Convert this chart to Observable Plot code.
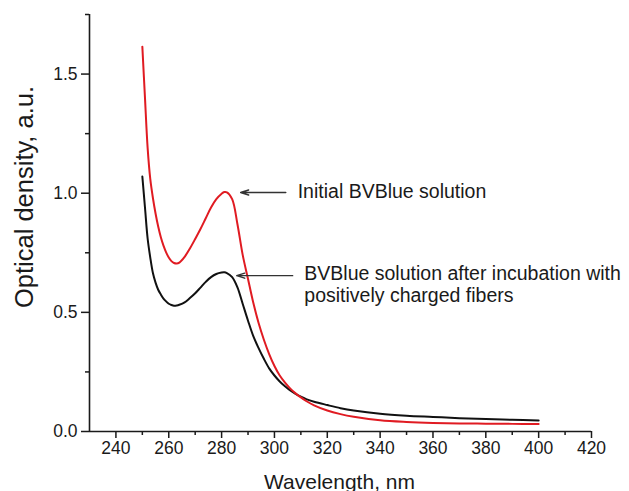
<!DOCTYPE html>
<html>
<head>
<meta charset="utf-8">
<script src="https://cdn.jsdelivr.net/npm/d3@7"></script>
<script src="https://cdn.jsdelivr.net/npm/@observablehq/plot@0.6"></script>
<style>
  html, body { margin: 0; padding: 0; background: #fff; }
  #chart svg { display: block; }
</style>
</head>
<body>
<div id="chart"></div>
<script>
// Wavelength (nm)
const wavelength = [250, 251, 252, 253, 254, 255, 256, 257, 258, 259, 260, 261, 262, 263, 264, 266, 268, 270, 272, 274, 276, 278, 280, 281, 282, 284, 286, 288, 290, 292, 294, 296, 298, 300, 302, 304, 306, 308, 310, 312, 315, 320, 325, 330, 340, 350, 360, 370, 380, 390, 400];
// Initial BVBlue solution (red)
const initialOD = [1.615, 1.40, 1.19, 1.06, 0.98, 0.915, 0.86, 0.815, 0.78, 0.752, 0.73, 0.715, 0.707, 0.705, 0.709, 0.733, 0.768, 0.808, 0.85, 0.895, 0.94, 0.975, 0.998, 1.005, 1.004, 0.975, 0.87, 0.74, 0.64, 0.54, 0.455, 0.385, 0.325, 0.275, 0.235, 0.205, 0.18, 0.16, 0.143, 0.128, 0.11, 0.088, 0.073, 0.062, 0.047, 0.04, 0.036, 0.034, 0.033, 0.032, 0.031];
// After incubation with positively charged fibers (black)
const afterOD = [1.07, 0.94, 0.81, 0.73, 0.665, 0.625, 0.595, 0.575, 0.558, 0.546, 0.536, 0.531, 0.528, 0.529, 0.532, 0.542, 0.56, 0.58, 0.604, 0.628, 0.648, 0.661, 0.667, 0.668, 0.665, 0.648, 0.605, 0.535, 0.465, 0.40, 0.35, 0.305, 0.265, 0.235, 0.21, 0.19, 0.172, 0.158, 0.146, 0.136, 0.125, 0.111, 0.098, 0.088, 0.074, 0.066, 0.061, 0.056, 0.052, 0.049, 0.046];

const xMajorTicks = [240, 260, 280, 300, 320, 340, 360, 380, 400, 420];
const xMinorTicks = [250, 270, 290, 310, 330, 350, 370, 390, 410];
const yMajorTicks = [0, 0.5, 1.0, 1.5];
const yMinorTicks = [0.25, 0.75, 1.25, 1.75];

const annoText = ["Initial BVBlue solution", "BVBlue solution after incubation with", "positively charged fibers"];
const annoX = [308.8, 311.3, 311.3];
const annoY = [1.007, 0.663, 0.571];

const arrowFromX = [304.3, 306.9];
const arrowToX = [287.2, 285.7];
const arrowY = [1.003, 0.654];

const xTitle = ["Wavelength, nm"];
const yTitle = ["Optical density, a.u."];

const redData = wavelength.map((w, i) => ({w, v: initialOD[i]}));
const blackData = wavelength.map((w, i) => ({w, v: afterOD[i]}));
const annoData = annoText.map((t, i) => ({t, x: annoX[i], y: annoY[i]}));
const arrowData = arrowY.map((y, i) => ({x1: arrowFromX[i], x2: arrowToX[i], y}));

const font = "'Liberation Sans', Arial, Helvetica, sans-serif";
const ink = "#1a1a1a";

const chart = Plot.plot({
  width: 629,
  height: 491,
  marginLeft: 89,
  marginRight: 38,
  marginTop: 14,
  marginBottom: 60,
  style: {fontFamily: font, color: ink, background: "#fff", overflow: "visible"},
  x: {domain: [230, 420]},
  y: {domain: [0, 1.75]},
  marks: [
    Plot.axisX({ticks: xMajorTicks, tickSize: 7, tickPadding: 3, fontSize: 17.5, label: null, strokeWidth: 1.5, stroke: ink}),
    Plot.axisX({ticks: xMinorTicks, tickSize: 4, text: null, label: null, strokeWidth: 1.5, stroke: ink}),
    Plot.axisY({ticks: yMajorTicks, tickSize: 8, tickPadding: 4, fontSize: 17.5, tickFormat: d3.format(".1f"), label: null, strokeWidth: 1.5, stroke: ink}),
    Plot.axisY({ticks: yMinorTicks, tickSize: 4, text: null, label: null, strokeWidth: 1.5, stroke: ink}),
    Plot.ruleY([0], {stroke: ink, strokeWidth: 1.6}),
    Plot.ruleX([230], {stroke: ink, strokeWidth: 1.6}),
    Plot.line(blackData, {x: "w", y: "v", stroke: "#111", strokeWidth: 2, curve: "catmull-rom"}),
    Plot.line(redData, {x: "w", y: "v", stroke: "#e01b22", strokeWidth: 2, curve: "catmull-rom"}),
    Plot.arrow(arrowData, {x1: "x1", x2: "x2", y1: "y", y2: "y", stroke: "#333", strokeWidth: 1.4, headLength: 9, headAngle: 35}),
    Plot.text(annoData, {x: "x", y: "y", text: "t", textAnchor: "start", lineAnchor: "middle", fontSize: 19.5, fill: ink}),
    Plot.text(xTitle, {text: d => d, frameAnchor: "bottom", lineAnchor: "bottom", dy: 57, dx: -1, fontSize: 21, fill: ink}),
    Plot.text(yTitle, {text: d => d, frameAnchor: "left", rotate: -90, textAnchor: "middle", lineAnchor: "bottom", dx: -57, dy: -26, fontSize: 25.5, fill: ink})
  ]
});
document.getElementById("chart").appendChild(chart);
</script>
</body>
</html>
